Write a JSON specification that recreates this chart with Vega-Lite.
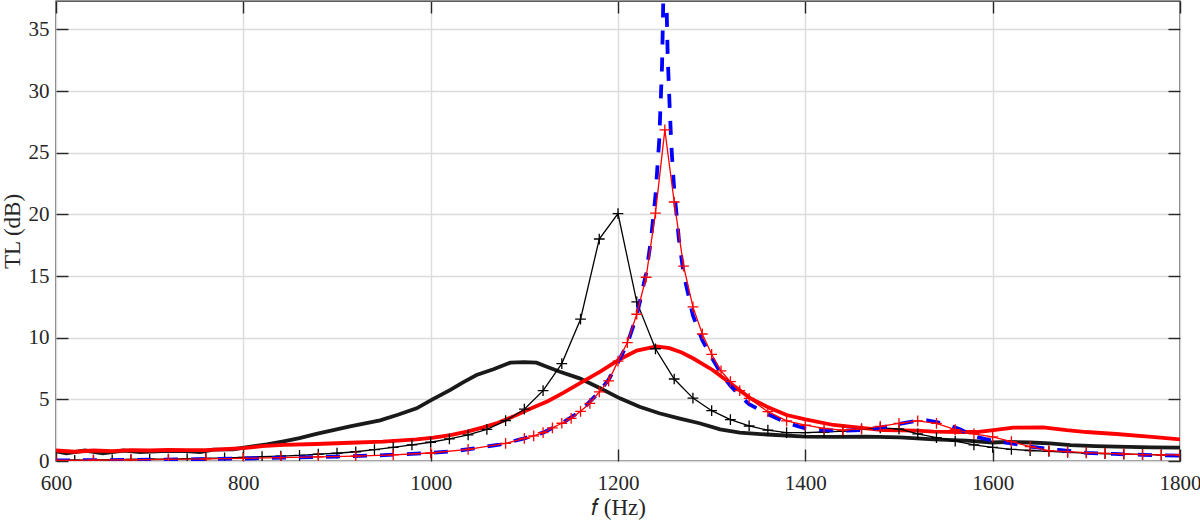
{
  "$schema": "https://vega.github.io/schema/vega-lite/v6.json",
  "width": 1124,
  "height": 460,
  "autosize": {"type": "none"},
  "padding": {"left": 56, "top": 1, "right": 20, "bottom": 60},
  "background": "white",
  "config": {
    "view": {"stroke": "#262626", "strokeWidth": 1.4},
    "font": "Liberation Serif",
    "axis": {
      "labelFont": "Liberation Serif",
      "titleFont": "Liberation Serif",
      "labelFontSize": 21,
      "titleFontSize": 23,
      "titleFontWeight": "normal",
      "labelColor": "#262626",
      "titleColor": "#262626",
      "tickColor": "#262626",
      "tickWidth": 1.4,
      "tickSize": -12,
      "labelFlush": false,
      "domain": false,
      "gridColor": "#dcdcdc",
      "gridWidth": 1.4,
      "gridOpacity": 1
    }
  },
  "datasets": {
    "thickBlack": [
      {"f": 600, "v": 0.78}, {"f": 611, "v": 0.62}, {"f": 631, "v": 0.85}, {"f": 650, "v": 0.62}, {"f": 672, "v": 0.85},
      {"f": 690, "v": 0.72}, {"f": 718, "v": 0.82}, {"f": 739, "v": 0.8}, {"f": 754, "v": 0.72}, {"f": 768, "v": 0.92},
      {"f": 789, "v": 0.95}, {"f": 804, "v": 1.12}, {"f": 825, "v": 1.35}, {"f": 843, "v": 1.6}, {"f": 860, "v": 1.85},
      {"f": 878, "v": 2.2}, {"f": 896, "v": 2.5}, {"f": 914, "v": 2.8}, {"f": 930, "v": 3.05}, {"f": 946, "v": 3.3},
      {"f": 965, "v": 3.75}, {"f": 985, "v": 4.27}, {"f": 1001, "v": 4.95}, {"f": 1021, "v": 5.76}, {"f": 1035, "v": 6.4},
      {"f": 1049, "v": 6.97}, {"f": 1067, "v": 7.44}, {"f": 1085, "v": 7.97}, {"f": 1100, "v": 8.02}, {"f": 1113, "v": 7.97},
      {"f": 1124, "v": 7.65}, {"f": 1138, "v": 7.24}, {"f": 1159, "v": 6.7}, {"f": 1181, "v": 5.9}, {"f": 1202, "v": 5.08},
      {"f": 1223, "v": 4.4}, {"f": 1244, "v": 3.87}, {"f": 1265, "v": 3.46}, {"f": 1287, "v": 3.06}, {"f": 1309, "v": 2.57},
      {"f": 1330, "v": 2.3}, {"f": 1359, "v": 2.15}, {"f": 1400, "v": 1.97}, {"f": 1430, "v": 1.95}, {"f": 1465, "v": 1.97},
      {"f": 1501, "v": 1.92}, {"f": 1537, "v": 1.76}, {"f": 1572, "v": 1.65}, {"f": 1600, "v": 1.5}, {"f": 1618, "v": 1.55},
      {"f": 1640, "v": 1.5}, {"f": 1661, "v": 1.43}, {"f": 1683, "v": 1.28}, {"f": 1710, "v": 1.2}, {"f": 1732, "v": 1.16},
      {"f": 1770, "v": 1.1}, {"f": 1800, "v": 1.08}
    ],
    "thickRed": [
      {"f": 600, "v": 0.85}, {"f": 620, "v": 0.75}, {"f": 640, "v": 0.85}, {"f": 660, "v": 0.8}, {"f": 680, "v": 0.88},
      {"f": 700, "v": 0.85}, {"f": 720, "v": 0.9}, {"f": 740, "v": 0.88}, {"f": 760, "v": 0.88}, {"f": 780, "v": 0.97},
      {"f": 800, "v": 1.05}, {"f": 820, "v": 1.2}, {"f": 843, "v": 1.3}, {"f": 878, "v": 1.38}, {"f": 914, "v": 1.48},
      {"f": 949, "v": 1.57}, {"f": 985, "v": 1.76}, {"f": 1003, "v": 1.9}, {"f": 1021, "v": 2.1}, {"f": 1040, "v": 2.4},
      {"f": 1056, "v": 2.73}, {"f": 1072, "v": 3.1}, {"f": 1088, "v": 3.6}, {"f": 1105, "v": 4.2}, {"f": 1125, "v": 4.85},
      {"f": 1142, "v": 5.55}, {"f": 1159, "v": 6.3}, {"f": 1181, "v": 7.24}, {"f": 1202, "v": 8.25}, {"f": 1220, "v": 8.95},
      {"f": 1241, "v": 9.3}, {"f": 1255, "v": 9.15}, {"f": 1268, "v": 8.8}, {"f": 1280, "v": 8.33}, {"f": 1301, "v": 7.38},
      {"f": 1320, "v": 6.3}, {"f": 1341, "v": 5.1}, {"f": 1359, "v": 4.4}, {"f": 1380, "v": 3.73}, {"f": 1400, "v": 3.38},
      {"f": 1430, "v": 2.92}, {"f": 1455, "v": 2.73}, {"f": 1483, "v": 2.5}, {"f": 1519, "v": 2.46}, {"f": 1537, "v": 2.38},
      {"f": 1565, "v": 2.35}, {"f": 1583, "v": 2.35}, {"f": 1601, "v": 2.5}, {"f": 1622, "v": 2.7}, {"f": 1654, "v": 2.73},
      {"f": 1679, "v": 2.5}, {"f": 1700, "v": 2.35}, {"f": 1732, "v": 2.19}, {"f": 1770, "v": 1.95}, {"f": 1800, "v": 1.76}
    ],
    "thinBlack": [
      {"f": 600, "v": 0.05}, {"f": 620, "v": 0.06}, {"f": 640, "v": 0.08}, {"f": 660, "v": 0.1}, {"f": 680, "v": 0.12},
      {"f": 700, "v": 0.14}, {"f": 720, "v": 0.16}, {"f": 740, "v": 0.19}, {"f": 760, "v": 0.22}, {"f": 780, "v": 0.26},
      {"f": 800, "v": 0.3}, {"f": 820, "v": 0.35}, {"f": 840, "v": 0.4}, {"f": 860, "v": 0.45}, {"f": 880, "v": 0.55},
      {"f": 900, "v": 0.63}, {"f": 920, "v": 0.75}, {"f": 940, "v": 0.92}, {"f": 960, "v": 1.1}, {"f": 980, "v": 1.3},
      {"f": 1000, "v": 1.52}, {"f": 1020, "v": 1.8}, {"f": 1040, "v": 2.12}, {"f": 1060, "v": 2.57}, {"f": 1080, "v": 3.27},
      {"f": 1100, "v": 4.2}, {"f": 1120, "v": 5.7}, {"f": 1140, "v": 7.9}, {"f": 1160, "v": 11.5}, {"f": 1180, "v": 18.0},
      {"f": 1200, "v": 20.06}, {"f": 1220, "v": 12.9}, {"f": 1240, "v": 9.1}, {"f": 1260, "v": 6.65}, {"f": 1280, "v": 5.1},
      {"f": 1300, "v": 4.08}, {"f": 1320, "v": 3.35}, {"f": 1340, "v": 2.84}, {"f": 1360, "v": 2.5}, {"f": 1380, "v": 2.3},
      {"f": 1400, "v": 2.3}, {"f": 1420, "v": 2.35}, {"f": 1440, "v": 2.43}, {"f": 1460, "v": 2.6}, {"f": 1480, "v": 2.68},
      {"f": 1500, "v": 2.6}, {"f": 1520, "v": 2.2}, {"f": 1540, "v": 1.9}, {"f": 1560, "v": 1.62}, {"f": 1580, "v": 1.3},
      {"f": 1600, "v": 1.1}, {"f": 1620, "v": 0.95}, {"f": 1640, "v": 0.85}, {"f": 1660, "v": 0.78}, {"f": 1680, "v": 0.7},
      {"f": 1700, "v": 0.65}, {"f": 1720, "v": 0.6}, {"f": 1740, "v": 0.56}, {"f": 1760, "v": 0.53}, {"f": 1780, "v": 0.5},
      {"f": 1800, "v": 0.48}
    ],
    "blue": [
      {"f": 600, "v": 0.05}, {"f": 650, "v": 0.07}, {"f": 700, "v": 0.1}, {"f": 750, "v": 0.14}, {"f": 800, "v": 0.2},
      {"f": 850, "v": 0.28}, {"f": 900, "v": 0.36}, {"f": 950, "v": 0.47}, {"f": 1000, "v": 0.65}, {"f": 1025, "v": 0.8},
      {"f": 1050, "v": 1.05}, {"f": 1075, "v": 1.35}, {"f": 1100, "v": 1.84}, {"f": 1120, "v": 2.3}, {"f": 1140, "v": 3.06},
      {"f": 1160, "v": 4.03}, {"f": 1180, "v": 5.6}, {"f": 1190, "v": 6.6}, {"f": 1200, "v": 8.0}, {"f": 1210, "v": 9.5},
      {"f": 1220, "v": 11.8}, {"f": 1230, "v": 15.2}, {"f": 1235, "v": 17.8}, {"f": 1240, "v": 21.5}, {"f": 1244, "v": 26.0},
      {"f": 1247, "v": 32.0}, {"f": 1249, "v": 40.0}, {"f": 1250, "v": 46.0}, {"f": 1251, "v": 40.0}, {"f": 1253, "v": 33.0},
      {"f": 1255, "v": 29.0}, {"f": 1257, "v": 25.5}, {"f": 1260, "v": 22.0}, {"f": 1265, "v": 18.0}, {"f": 1270, "v": 15.2},
      {"f": 1280, "v": 11.8}, {"f": 1290, "v": 9.8}, {"f": 1300, "v": 8.4}, {"f": 1310, "v": 7.1}, {"f": 1320, "v": 6.1},
      {"f": 1330, "v": 5.3}, {"f": 1340, "v": 4.6}, {"f": 1360, "v": 3.8}, {"f": 1380, "v": 3.1}, {"f": 1400, "v": 2.65},
      {"f": 1420, "v": 2.5}, {"f": 1440, "v": 2.45}, {"f": 1460, "v": 2.5}, {"f": 1480, "v": 2.7}, {"f": 1500, "v": 3.0},
      {"f": 1520, "v": 3.27}, {"f": 1530, "v": 3.3}, {"f": 1540, "v": 3.15}, {"f": 1550, "v": 3.0}, {"f": 1565, "v": 2.57},
      {"f": 1580, "v": 2.0}, {"f": 1600, "v": 1.65}, {"f": 1620, "v": 1.43}, {"f": 1640, "v": 1.16}, {"f": 1670, "v": 0.9},
      {"f": 1700, "v": 0.66}, {"f": 1730, "v": 0.57}, {"f": 1760, "v": 0.5}, {"f": 1800, "v": 0.43}
    ],
    "thinRed": [
      {"f": 600, "v": 0.05}, {"f": 640, "v": 0.07}, {"f": 680, "v": 0.1}, {"f": 720, "v": 0.13}, {"f": 760, "v": 0.17},
      {"f": 800, "v": 0.22}, {"f": 840, "v": 0.27}, {"f": 880, "v": 0.33}, {"f": 920, "v": 0.4}, {"f": 960, "v": 0.5},
      {"f": 1000, "v": 0.65}, {"f": 1040, "v": 0.95}, {"f": 1080, "v": 1.43}, {"f": 1100, "v": 1.84}, {"f": 1110, "v": 2.03},
      {"f": 1120, "v": 2.3}, {"f": 1130, "v": 2.68}, {"f": 1140, "v": 3.06}, {"f": 1150, "v": 3.46}, {"f": 1160, "v": 4.03},
      {"f": 1170, "v": 4.68}, {"f": 1180, "v": 5.6}, {"f": 1190, "v": 6.5}, {"f": 1200, "v": 8.1}, {"f": 1210, "v": 9.6},
      {"f": 1220, "v": 11.9}, {"f": 1230, "v": 14.9}, {"f": 1240, "v": 20.1}, {"f": 1250, "v": 26.85}, {"f": 1260, "v": 21.0},
      {"f": 1270, "v": 15.8}, {"f": 1280, "v": 12.5}, {"f": 1290, "v": 10.3}, {"f": 1300, "v": 8.65}, {"f": 1310, "v": 7.3},
      {"f": 1320, "v": 6.43}, {"f": 1330, "v": 5.7}, {"f": 1340, "v": 5.08}, {"f": 1360, "v": 4.0}, {"f": 1380, "v": 3.25},
      {"f": 1400, "v": 2.9}, {"f": 1420, "v": 2.65}, {"f": 1440, "v": 2.5}, {"f": 1460, "v": 2.6}, {"f": 1480, "v": 2.8},
      {"f": 1500, "v": 3.05}, {"f": 1520, "v": 3.25}, {"f": 1540, "v": 3.05}, {"f": 1560, "v": 2.55}, {"f": 1580, "v": 2.2},
      {"f": 1600, "v": 1.95}, {"f": 1620, "v": 1.57}, {"f": 1640, "v": 1.16}, {"f": 1660, "v": 0.84}, {"f": 1680, "v": 0.76},
      {"f": 1700, "v": 0.68}, {"f": 1720, "v": 0.62}, {"f": 1740, "v": 0.57}, {"f": 1760, "v": 0.51}, {"f": 1780, "v": 0.49},
      {"f": 1800, "v": 0.49}
    ]
  },
  "resolve": {"axis": {"x": "independent", "y": "independent"}},
  "layer": [
    {
      "data": {"name": "thickBlack"},
      "mark": {"type": "line", "color": "#1a1a1a", "strokeWidth": 3.8, "clip": true},
      "encoding": {
        "x": {"field": "f", "type": "quantitative", "scale": {"domain": [600, 1800], "nice": false, "zero": false},
              "axis": {"orient": "bottom", "values": [600, 800, 1000, 1200, 1400, 1600, 1800], "format": "d", "grid": true,
                       "labelPadding": 23, "title": "𝑓 (Hz)", "titlePadding": 3}},
        "y": {"field": "v", "type": "quantitative", "scale": {"domain": [0, 37.3], "nice": false, "zero": false},
              "axis": {"orient": "left", "values": [0, 5, 10, 15, 20, 25, 30, 35], "format": "d", "grid": true,
                       "labelPadding": 19, "title": "TL (dB)", "titlePadding": 4}}
      }
    },
    {
      "data": {"name": "thickRed"},
      "mark": {"type": "line", "color": "#ff0000", "strokeWidth": 3.8, "clip": true},
      "encoding": {
        "x": {"field": "f", "type": "quantitative", "scale": {"domain": [600, 1800], "nice": false, "zero": false},
              "axis": {"orient": "top", "values": [600, 800, 1000, 1200, 1400, 1600, 1800], "labels": false, "grid": false, "title": null}},
        "y": {"field": "v", "type": "quantitative", "scale": {"domain": [0, 37.3], "nice": false, "zero": false},
              "axis": {"orient": "right", "values": [0, 5, 10, 15, 20, 25, 30, 35], "labels": false, "grid": false, "title": null}}
      }
    },
    {
      "data": {"name": "thinBlack"},
      "mark": {"type": "line", "color": "#000000", "strokeWidth": 1.3, "clip": true,
               "point": {"shape": "M-1,0L1,0M0,-1L0,1", "filled": false, "size": 115, "stroke": "#000000", "strokeWidth": 1.3}},
      "encoding": {
        "x": {"field": "f", "type": "quantitative", "scale": {"domain": [600, 1800], "nice": false, "zero": false}, "axis": null},
        "y": {"field": "v", "type": "quantitative", "scale": {"domain": [0, 37.3], "nice": false, "zero": false}, "axis": null}
      }
    },
    {
      "data": {"name": "blue"},
      "mark": {"type": "line", "color": "#0000ff", "strokeWidth": 3.8, "strokeDash": [14, 13], "clip": true},
      "encoding": {
        "x": {"field": "f", "type": "quantitative", "scale": {"domain": [600, 1800], "nice": false, "zero": false}, "axis": null},
        "y": {"field": "v", "type": "quantitative", "scale": {"domain": [0, 37.3], "nice": false, "zero": false}, "axis": null}
      }
    },
    {
      "data": {"name": "thinRed"},
      "mark": {"type": "line", "color": "#ff0000", "strokeWidth": 1.3, "clip": true,
               "point": {"shape": "M-1,0L1,0M0,-1L0,1", "filled": false, "size": 115, "stroke": "#ff0000", "strokeWidth": 1.3}},
      "encoding": {
        "x": {"field": "f", "type": "quantitative", "scale": {"domain": [600, 1800], "nice": false, "zero": false}, "axis": null},
        "y": {"field": "v", "type": "quantitative", "scale": {"domain": [0, 37.3], "nice": false, "zero": false}, "axis": null}
      }
    }
  ]
}
